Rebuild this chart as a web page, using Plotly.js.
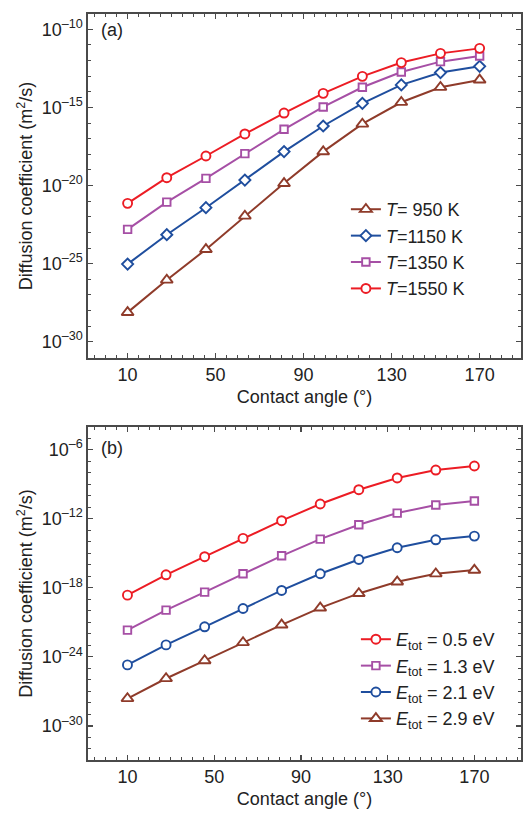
<!DOCTYPE html>
<html>
<head>
<meta charset="utf-8">
<script src="https://cdn.plot.ly/plotly-3.0.1.min.js"></script>
<style>
html,body{margin:0;padding:0;background:#fff;}
#chart{width:523px;height:814px;}
</style>
</head>
<body>
<div id="chart"></div>
<script>
// Contact angle (degrees)
const contactAngle = [10, 27.8, 45.6, 63.3, 81.1, 98.9, 116.7, 134.4, 152.2, 170];

// Panel (a): log10 of diffusion coefficient (m^2/s) at different temperatures
const tempLabels = ['<i>T</i>= 950 K', '<i>T</i>=1150 K', '<i>T</i>=1350 K', '<i>T</i>=1550 K'];
const logD_T950  = [-28.12, -26.05, -24.09, -21.95, -19.86, -17.83, -16.06, -14.67, -13.71, -13.24];
const logD_T1150 = [-25.03, -23.15, -21.42, -19.65, -17.83, -16.19, -14.74, -13.56, -12.77, -12.37];
const logD_T1350 = [-22.81, -21.06, -19.54, -17.96, -16.40, -14.97, -13.71, -12.73, -12.07, -11.71];
const logD_T1550 = [-21.14, -19.50, -18.11, -16.70, -15.36, -14.10, -13.01, -12.13, -11.54, -11.22];

// Panel (b): log10 of diffusion coefficient (m^2/s) at different total energies
const energyLabels = ['<i>E</i><sub>tot</sub> = 0.5 eV', '<i>E</i><sub>tot</sub> = 1.3 eV', '<i>E</i><sub>tot</sub> = 2.1 eV', '<i>E</i><sub>tot</sub> = 2.9 eV'];
const logD_E05 = [-18.64, -16.87, -15.30, -13.71, -12.17, -10.72, -9.48, -8.46, -7.77, -7.42];
const logD_E13 = [-21.68, -19.94, -18.38, -16.78, -15.22, -13.77, -12.52, -11.51, -10.81, -10.46];
const logD_E21 = [-24.70, -22.96, -21.39, -19.80, -18.23, -16.78, -15.54, -14.52, -13.83, -13.51];
const logD_E29 = [-27.62, -25.88, -24.32, -22.75, -21.22, -19.74, -18.49, -17.48, -16.78, -16.46];

// Tick labels
const xTickVals = [10, 50, 90, 130, 170];
const aTickExp = [-30, -25, -20, -15, -10];
const bTickExp = [-30, -24, -18, -12, -6];

const toVal = arr => arr.map(v => Math.pow(10, v));

const C = {red:'#ec1c24', blue:'#1f4e9e', purple:'#a64fa5', brown:'#8f3b2a'};
const FONT = 'Liberation Sans, Arial, sans-serif';

function tr(y, name, color, symbol, size, xa, ya, leg, grp){
  return {
    x: contactAngle, y: toVal(y), name: name, type:'scatter', mode:'lines+markers',
    xaxis: xa, yaxis: ya, legend: leg, legendgroup: grp,
    line:{color:color, width:2},
    marker:{symbol:symbol, size:size, color:'#ffffff', line:{color:color, width:1.9}}
  };
}

const traces = [
  tr(logD_T950,  tempLabels[0], C.brown,  'triangle-up', 10.5, 'x', 'y', 'legend', 'a1'),
  tr(logD_T1150, tempLabels[1], C.blue,   'diamond', 8.5, 'x', 'y', 'legend', 'a2'),
  tr(logD_T1350, tempLabels[2], C.purple, 'square', 7.5, 'x', 'y', 'legend', 'a3'),
  tr(logD_T1550, tempLabels[3], C.red,    'circle', 9, 'x', 'y', 'legend', 'a4'),
  tr(logD_E05, energyLabels[0], C.red,    'circle', 9, 'x2', 'y2', 'legend2', 'b1'),
  tr(logD_E13, energyLabels[1], C.purple, 'square', 7.5, 'x2', 'y2', 'legend2', 'b2'),
  tr(logD_E21, energyLabels[2], C.blue,   'circle', 9, 'x2', 'y2', 'legend2', 'b3'),
  tr(logD_E29, energyLabels[3], C.brown,  'triangle-up', 10.5, 'x2', 'y2', 'legend2', 'b4')
];

const axisLine = '#4a4a4a';
function xAxis(range, anchor){
  return {
    range: range, domain:[0,1], anchor: anchor,
    tickmode:'array', tickvals: xTickVals, ticktext: xTickVals.map(String),
    ticks:'inside', ticklen:5, tickwidth:1.2, tickcolor:axisLine,
    minor:{dtick:5, tick0:0, ticks:'inside', ticklen:3, tickwidth:1, tickcolor:axisLine},
    showline:true, linecolor:axisLine, linewidth:1.6, mirror:'allticks',
    showgrid:false, zeroline:false,
    tickfont:{family:FONT, size:18, color:'#222'},
    title:{text:'Contact angle (°)', font:{family:FONT, size:18, color:'#222'}, standoff:6}
  };
}
function yAxis(rangeExp, domain, anchor, tickExp){
  const minorVals = [];
  for (let e = Math.ceil(rangeExp[0]); e <= Math.floor(rangeExp[1]); e++) minorVals.push(Math.pow(10, e));
  return {
    type:'log', range: rangeExp, domain: domain, anchor: anchor,
    tickmode:'array', tickvals: tickExp.map(e => Math.pow(10, e)),
    ticktext: tickExp.map(e => '10<sup>–' + Math.abs(e) + '</sup>'),
    ticks:'inside', ticklen:5, tickwidth:1.2, tickcolor:axisLine,
    minor:{tickmode:'array', tickvals: minorVals, ticks:'inside', ticklen:3, tickwidth:1, tickcolor:axisLine},
    showline:true, linecolor:axisLine, linewidth:1.6, mirror:'allticks',
    showgrid:false, zeroline:false,
    tickfont:{family:FONT, size:18, color:'#222'},
    title:{text:'Diffusion coefficient (m<sup>2</sup>/s)', font:{family:FONT, size:18, color:'#222'}, standoff:4}
  };
}

const layout = {
  width:523, height:814,
  margin:{l:87.5, r:1.5, t:14, b:54},
  paper_bgcolor:'#ffffff', plot_bgcolor:'#ffffff',
  font:{family:FONT, size:18, color:'#222'},
  xaxis: xAxis([-8, 188.8], 'y'),
  yaxis: yAxis([-31.04, -9.02], [0.5389, 1], 'x', aTickExp),
  xaxis2: xAxis([-8.2, 191.5], 'y2'),
  yaxis2: yAxis([-32.96, -4.03], [0, 0.4464], 'x2', bTickExp),
  legend:{x:0.5956, y:0.7627, xanchor:'left', yanchor:'top', bgcolor:'rgba(0,0,0,0)',
          font:{family:FONT, size:18, color:'#222'}, tracegroupgap:4, itemwidth:30, traceorder:'normal'},
  legend2:{x:0.6187, y:0.1863, xanchor:'left', yanchor:'top', bgcolor:'rgba(0,0,0,0)',
          font:{family:FONT, size:18, color:'#222'}, tracegroupgap:3.3, itemwidth:30, traceorder:'normal'},
  annotations:[
    {text:'(a)', xref:'paper', yref:'paper', x:0.0265, y:1-(30-14)/746, xanchor:'left', yanchor:'middle', showarrow:false, font:{family:FONT, size:18, color:'#222'}},
    {text:'(b)', xref:'paper', yref:'paper', x:0.0265, y:1-(448-14)/746, xanchor:'left', yanchor:'middle', showarrow:false, font:{family:FONT, size:18, color:'#222'}}
  ],
  showlegend:true
};

Plotly.newPlot('chart', traces, layout, {displayModeBar:false, staticPlot:true});
</script>
</body>
</html>
